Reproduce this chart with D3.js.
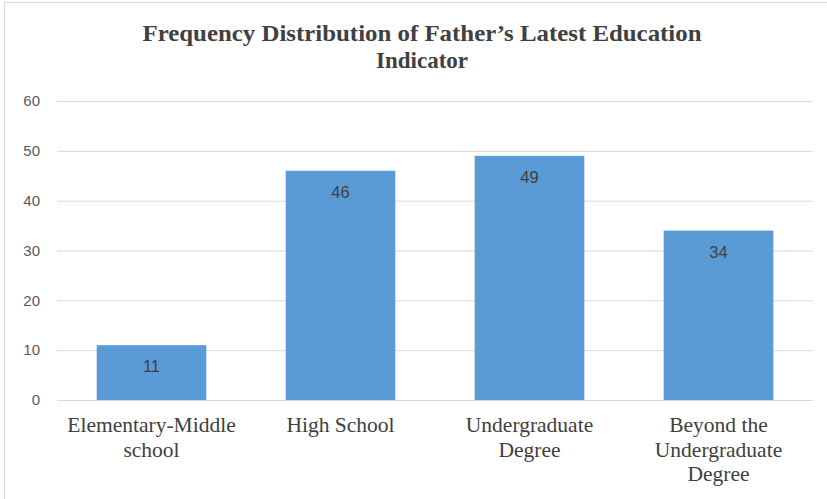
<!DOCTYPE html>
<html>
<head>
<meta charset="utf-8">
<script src="https://cdn.jsdelivr.net/npm/d3@7"></script>
<style>
  body { margin: 0; background: #fff; }
  svg { display: block; }
</style>
</head>
<body>
<div class="chart"></div>
<script>
var svgWidth = 827;
var svgHeight = 499;

var categories = [
    ["Elementary-Middle", "school"],
    ["High School"],
    ["Undergraduate", "Degree"],
    ["Beyond the", "Undergraduate", "Degree"]
];
var values = [11, 46, 49, 34];
var yTicks = [0, 10, 20, 30, 40, 50, 60];
var titleLines = ["Frequency Distribution of Father\u2019s Latest Education", "Indicator"];

var margin = { top: 101, right: 14, bottom: 99, left: 57 };
var width = svgWidth - margin.left - margin.right;
var height = svgHeight - margin.top - margin.bottom;

var svg = d3.select(".chart")
    .append("svg")
    .attr("width", svgWidth)
    .attr("height", svgHeight);

// chart border
svg.append("rect")
    .attr("x", 4.5)
    .attr("y", 2.5)
    .attr("width", svgWidth + 10)
    .attr("height", svgHeight + 10)
    .attr("fill", "none")
    .attr("stroke", "#d9d9d9");

svg.append("text")
    .attr("x", 422)
    .attr("y", 41)
    .attr("text-anchor", "middle")
    .style("font-family", "'Liberation Serif', 'Times New Roman', serif")
    .style("font-weight", "bold")
    .style("font-size", "23px")
    .attr("fill", "#404040")
    .selectAll("tspan")
    .data(titleLines)
    .enter()
    .append("tspan")
    .attr("x", 422)
    .attr("dy", (d, i) => i === 0 ? 0 : 27)
    .attr("textLength", (d, i) => i === 0 ? 559 : null)
    .attr("lengthAdjust", "spacingAndGlyphs")
    .text(d => d);

var chartGroup = svg.append("g")
    .attr("transform", `translate(${margin.left}, ${margin.top})`);

var xScale = d3.scaleBand()
    .domain(d3.range(values.length))
    .range([0, width])
    .paddingInner(0.42)
    .paddingOuter(0.21);

var yScale = d3.scaleLinear()
    .domain([0, 60])
    .range([height, 0]);

// gridlines
chartGroup.append("g")
    .call(d3.axisLeft(yScale).tickValues(yTicks).tickSize(-width).tickFormat(""))
    .call(g => g.select(".domain").remove())
    .call(g => g.selectAll("line").attr("stroke", "#d9d9d9").attr("stroke-width", 1));

// y tick labels
chartGroup.append("g")
    .call(d3.axisLeft(yScale).tickValues(yTicks).tickSize(0).tickPadding(17))
    .call(g => g.select(".domain").remove())
    .call(g => g.selectAll("text")
        .attr("fill", "#595959")
        .style("font-family", "'Liberation Sans', Arial, sans-serif")
        .style("font-size", "15px"));

chartGroup.selectAll("rect.bar")
    .data(values)
    .enter()
    .append("rect")
    .attr("class", "bar")
    .attr("x", (d, i) => xScale(i))
    .attr("y", d => yScale(d))
    .attr("width", xScale.bandwidth())
    .attr("height", d => height - yScale(d))
    .attr("fill", "#5b9bd5");

chartGroup.selectAll("text.val")
    .data(values)
    .enter()
    .append("text")
    .attr("class", "val")
    .attr("x", (d, i) => xScale(i) + xScale.bandwidth() / 2)
    .attr("y", d => yScale(d) + 27)
    .attr("text-anchor", "middle")
    .attr("fill", "#404040")
    .style("font-family", "'Liberation Sans', Arial, sans-serif")
    .style("font-size", "16.5px")
    .text(d => d);

// baseline
chartGroup.append("line")
    .attr("x1", 0)
    .attr("x2", width)
    .attr("y1", height + 0.5)
    .attr("y2", height + 0.5)
    .attr("stroke", "#d9d9d9");

// category labels
var catGroup = chartGroup.selectAll("text.cat")
    .data(categories)
    .enter()
    .append("text")
    .attr("class", "cat")
    .attr("text-anchor", "middle")
    .attr("fill", "#404040")
    .style("font-family", "'Liberation Serif', 'Times New Roman', serif")
    .style("font-size", "21.5px")
    .attr("transform", (d, i) => `translate(${xScale(i) + xScale.bandwidth() / 2}, ${height + 32})`);

catGroup.selectAll("tspan")
    .data(d => d)
    .enter()
    .append("tspan")
    .attr("x", 0)
    .attr("y", (d, i) => i * 24.5)
    .text(d => d);
</script>
</body>
</html>
